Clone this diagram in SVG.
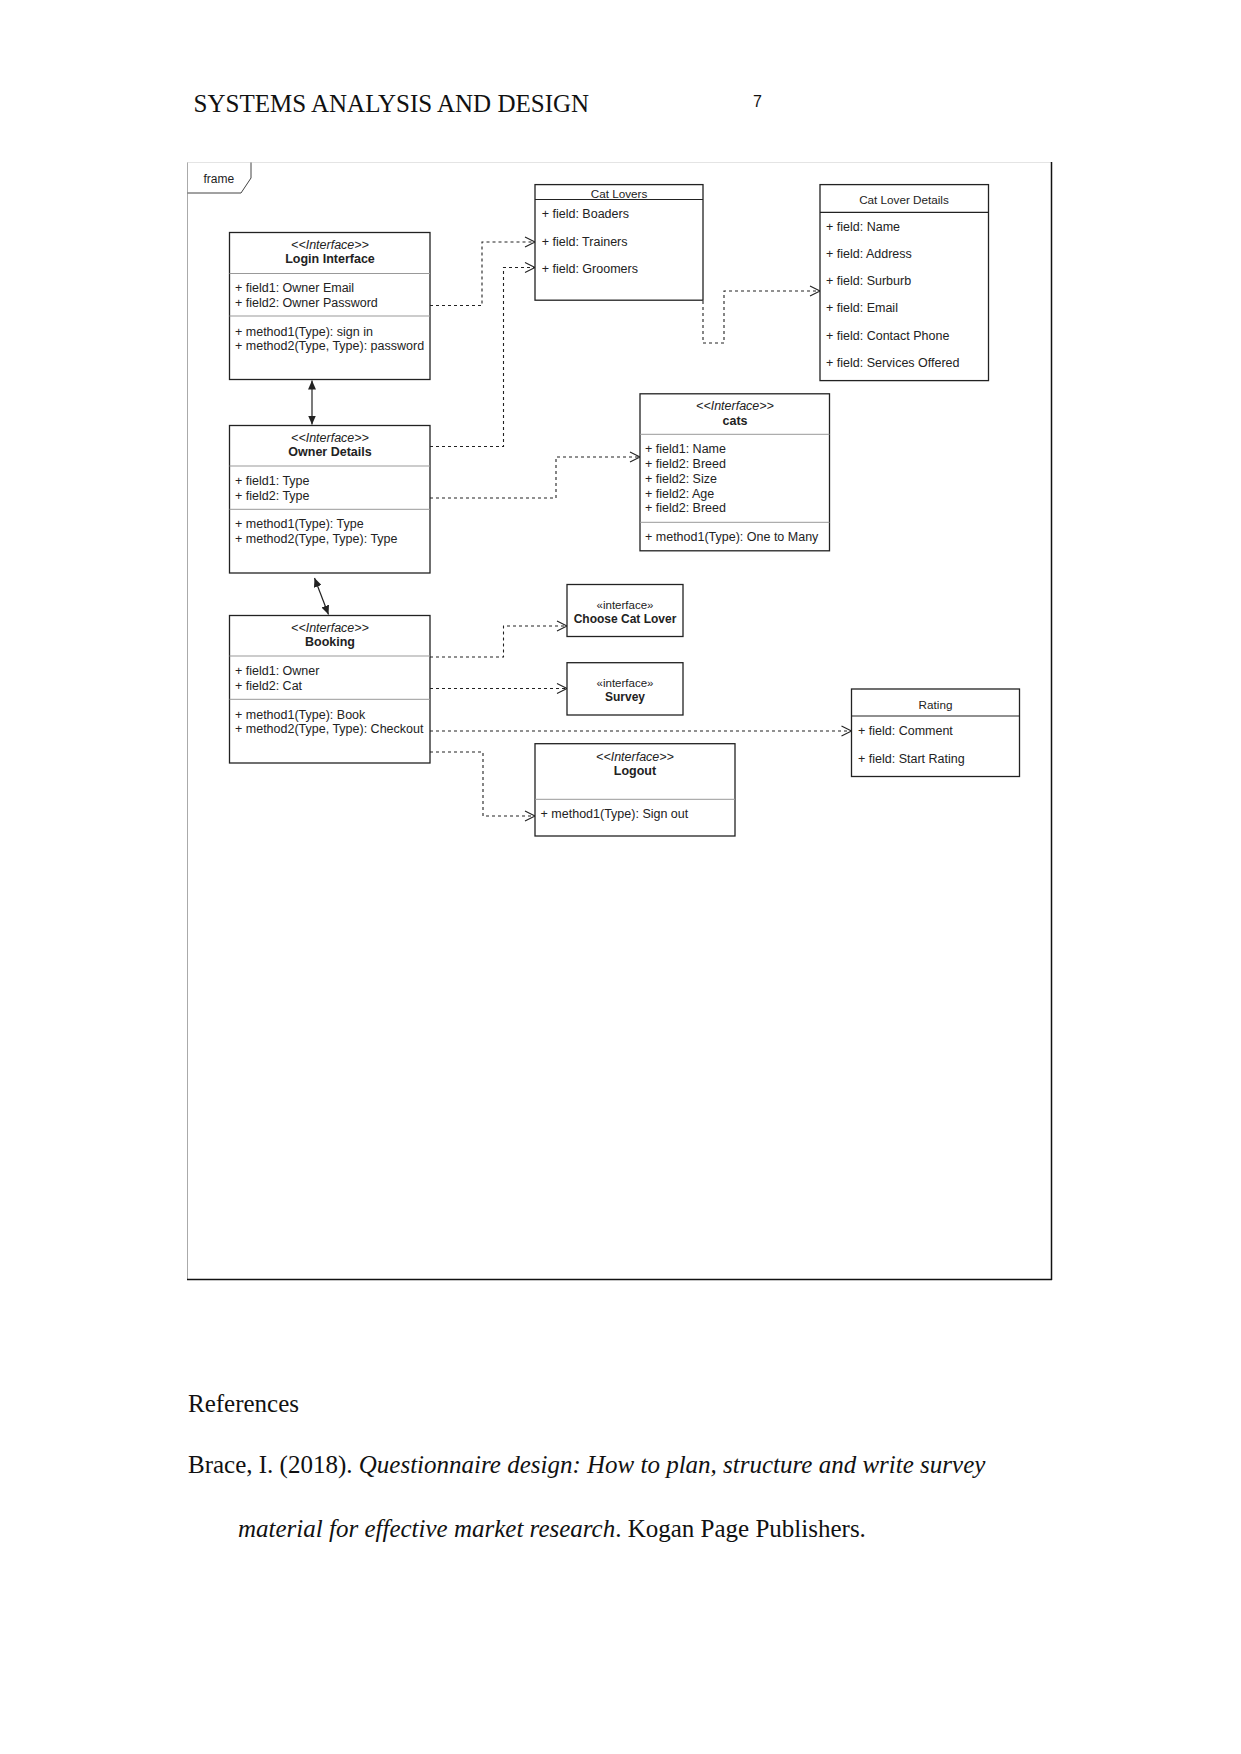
<svg xmlns="http://www.w3.org/2000/svg" width="1241" height="1754" viewBox="0 0 1241 1754">
<style>
.page{font-family:"Liberation Serif","Times New Roman",serif;font-size:25px;fill:#111}
.t{font-family:"Liberation Sans",Arial,sans-serif;font-size:12.5px;fill:#222}
.h{font-family:"Liberation Sans",Arial,sans-serif;font-size:11.7px;fill:#222}
.st{font-family:"Liberation Sans",Arial,sans-serif;font-size:12.5px;font-style:italic;fill:#222}
.st2{font-family:"Liberation Sans",Arial,sans-serif;font-size:11.5px;fill:#222}
.b{font-family:"Liberation Sans",Arial,sans-serif;font-size:12.5px;font-weight:bold;fill:#222}
.c{text-anchor:middle}
.box{fill:#fff;stroke:#222;stroke-width:1.3}
.sep{stroke:#999;stroke-width:1}
.hsep{stroke:#222;stroke-width:1.2}
.dep{fill:none;stroke:#222;stroke-width:1.1;stroke-dasharray:3 3;marker-end:url(#open)}
.assoc{fill:none;stroke:#222;stroke-width:1.2;marker-start:url(#fillS);marker-end:url(#fillE)}
</style>
<defs>
<marker id="open" markerUnits="userSpaceOnUse" markerWidth="14" markerHeight="14" refX="11" refY="6" orient="auto" viewBox="0 0 14 12">
<path d="M1,1 L11,6 L1,11" fill="none" stroke="#222" stroke-width="1.1"/>
</marker>
<marker id="fillE" markerUnits="userSpaceOnUse" markerWidth="10" markerHeight="8" refX="9" refY="4" orient="auto" viewBox="0 0 10 8">
<path d="M0,0 L9,4 L0,8 Z" fill="#222"/>
</marker>
<marker id="fillS" markerUnits="userSpaceOnUse" markerWidth="10" markerHeight="8" refX="1" refY="4" orient="auto" viewBox="0 0 10 8">
<path d="M10,0 L1,4 L10,8 Z" fill="#222"/>
</marker>
</defs>
<rect width="1241" height="1754" fill="#fff"/>

<text class="page" x="193.6" y="112">SYSTEMS ANALYSIS AND DESIGN</text>
<text x="753" y="106.7" style="font-family:'Liberation Sans',Arial,sans-serif;font-size:16px;fill:#111">7</text>

<g id="frame">
<line x1="187" y1="162.5" x2="1051.5" y2="162.5" stroke="#e4e4e4" stroke-width="1"/>
<line x1="187.5" y1="162.5" x2="187.5" y2="1279.5" stroke="#aaa" stroke-width="1"/>
<line x1="1051.5" y1="162" x2="1051.5" y2="1280" stroke="#111" stroke-width="1.5"/>
<line x1="187" y1="1279.5" x2="1052" y2="1279.5" stroke="#111" stroke-width="1.5"/>
<path d="M251,162.5 V178 L241,193 H187.5" fill="none" stroke="#444" stroke-width="1"/>
<text x="203.5" y="183" style="font-family:'Liberation Sans',Arial,sans-serif;font-size:12px;fill:#222">frame</text>
</g>

<g id="connectors">
<path class="dep" d="M430,305.5 H482 V242 H535"/>
<path class="dep" d="M430,446.5 H503.5 V267.5 H535"/>
<path class="dep" d="M703,301 V343 H724 V291 H820"/>
<path class="dep" d="M430,498 H556 V457 H640"/>
<path class="dep" d="M430,657 H503.5 V626 H567"/>
<path class="dep" d="M430,688.5 H567"/>
<path class="dep" d="M430,731 H851.5"/>
<path class="dep" d="M430,752 H483 V816 H535"/>
<path class="assoc" d="M312,380.5 V424.5"/>
<path class="assoc" d="M314.5,578 L328.5,614.5"/>
</g>

<g id="login">
<rect class="box" x="229.5" y="232.5" width="200.5" height="147"/>
<line class="sep" x1="229.5" y1="273.5" x2="430" y2="273.5"/>
<line class="sep" x1="229.5" y1="316" x2="430" y2="316"/>
<text class="st c" x="330" y="249.4">&lt;&lt;Interface&gt;&gt;</text>
<text class="b c" x="330" y="263.4">Login Interface</text>
<text class="t" x="235" y="291.9">+ field1: Owner Email</text>
<text class="t" x="235" y="306.9">+ field2: Owner Password</text>
<text class="t" x="235" y="335.9">+ method1(Type): sign in</text>
<text class="t" x="235" y="350.4">+ method2(Type, Type): password</text>
</g>

<g id="owner">
<rect class="box" x="229.5" y="425.5" width="200.5" height="147.5"/>
<line class="sep" x1="229.5" y1="466" x2="430" y2="466"/>
<line class="sep" x1="229.5" y1="509.3" x2="430" y2="509.3"/>
<text class="st c" x="330" y="442.1">&lt;&lt;Interface&gt;&gt;</text>
<text class="b c" x="330" y="456.4">Owner Details</text>
<text class="t" x="235" y="484.9">+ field1: Type</text>
<text class="t" x="235" y="499.7">+ field2: Type</text>
<text class="t" x="235" y="528.4">+ method1(Type): Type</text>
<text class="t" x="235" y="543.1">+ method2(Type, Type): Type</text>
</g>

<g id="booking">
<rect class="box" x="229.5" y="615.5" width="200.5" height="147.5"/>
<line class="sep" x1="229.5" y1="656" x2="430" y2="656"/>
<line class="sep" x1="229.5" y1="699.3" x2="430" y2="699.3"/>
<text class="st c" x="330" y="632.1">&lt;&lt;Interface&gt;&gt;</text>
<text class="b c" x="330" y="646.4">Booking</text>
<text class="t" x="235" y="675.1">+ field1: Owner</text>
<text class="t" x="235" y="690.1">+ field2: Cat</text>
<text class="t" x="235" y="718.7">+ method1(Type): Book</text>
<text class="t" x="235" y="733.4">+ method2(Type, Type): Checkout</text>
</g>

<g id="catlovers">
<rect class="box" x="535" y="184.6" width="168" height="115.6"/>
<line class="hsep" x1="535" y1="199.5" x2="703" y2="199.5"/>
<text class="h c" x="619" y="198.2">Cat Lovers</text>
<text class="t" x="541.7" y="218.4">+ field: Boaders</text>
<text class="t" x="541.7" y="246">+ field: Trainers</text>
<text class="t" x="541.7" y="273.2">+ field: Groomers</text>
</g>

<g id="catloverdetails">
<rect class="box" x="820" y="184.6" width="168.5" height="196"/>
<line class="hsep" x1="820" y1="212.3" x2="988.5" y2="212.3"/>
<text class="h c" x="904" y="204.2">Cat Lover Details</text>
<text class="t" x="826" y="231.1">+ field: Name</text>
<text class="t" x="826" y="258.1">+ field: Address</text>
<text class="t" x="826" y="285.4">+ field: Surburb</text>
<text class="t" x="826" y="312.4">+ field: Email</text>
<text class="t" x="826" y="340.4">+ field: Contact Phone</text>
<text class="t" x="826" y="367.4">+ field: Services Offered</text>
</g>

<g id="cats">
<rect class="box" x="640" y="393.8" width="189.5" height="157"/>
<line class="sep" x1="640" y1="434.3" x2="829.5" y2="434.3"/>
<line class="sep" x1="640" y1="522.3" x2="829.5" y2="522.3"/>
<text class="st c" x="735" y="410.1">&lt;&lt;Interface&gt;&gt;</text>
<text class="b c" x="735" y="425.1">cats</text>
<text class="t" x="645" y="453.4">+ field1: Name</text>
<text class="t" x="645" y="468.1">+ field2: Breed</text>
<text class="t" x="645" y="483.1">+ field2: Size</text>
<text class="t" x="645" y="497.7">+ field2: Age</text>
<text class="t" x="645" y="512.4">+ field2: Breed</text>
<text class="t" x="645" y="541.1">+ method1(Type): One to Many</text>
</g>

<g id="choosecatlover">
<rect class="box" x="567" y="584.5" width="116" height="52"/>
<text class="st2 c" x="625" y="609">«interface»</text>
<text class="b c" x="625" y="622.6" style="font-size:12px">Choose Cat Lover</text>
</g>

<g id="survey">
<rect class="box" x="567" y="662.7" width="116" height="52.3"/>
<text class="st2 c" x="625" y="687.3">«interface»</text>
<text class="b c" x="625" y="701" style="font-size:12px">Survey</text>
</g>

<g id="rating">
<rect class="box" x="851.5" y="689" width="168" height="87.5"/>
<line class="hsep" x1="851.5" y1="716" x2="1019.5" y2="716"/>
<text class="h c" x="935.5" y="708.5">Rating</text>
<text class="t" x="858" y="735">+ field: Comment</text>
<text class="t" x="858" y="762.6">+ field: Start Rating</text>
</g>

<g id="logout">
<rect class="box" x="535" y="743.7" width="200" height="92.3"/>
<line class="sep" x1="535" y1="799.3" x2="735" y2="799.3"/>
<text class="st c" x="635" y="761">&lt;&lt;Interface&gt;&gt;</text>
<text class="b c" x="635" y="775">Logout</text>
<text class="t" x="540.6" y="818.3">+ method1(Type): Sign out</text>
</g>

<g id="references">
<text class="page" x="188" y="1411.7">References</text>
<text class="page" x="188" y="1473.3">Brace, I. (2018). <tspan font-style="italic">Questionnaire design: How to plan, structure and write survey</tspan></text>
<text class="page" x="238" y="1536.7"><tspan font-style="italic">material for effective market research</tspan>. Kogan Page Publishers.</text>
</g>
</svg>
